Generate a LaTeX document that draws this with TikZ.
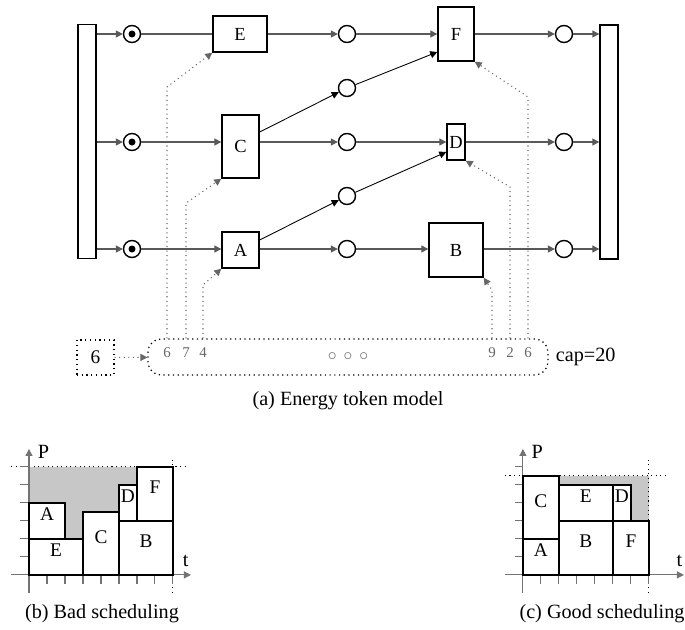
\documentclass[tikz,border=0pt]{standalone}
\usepackage{fontspec}
\setmainfont{Liberation Serif}
\usetikzlibrary{arrows.meta, positioning, fit}

\begin{document}
\begin{tikzpicture}[x=0.02cm, y=-0.02cm,
  bar/.style={draw, line width=0.8pt, minimum width=0.36cm, minimum height=4.68cm, inner sep=0pt},
  place/.style={draw, circle, line width=0.8pt, minimum size=0.34cm, inner sep=0pt},
  mplace/.style={place, path picture={\fill (path picture bounding box.center) circle (0.07cm);}},
  trans/.style={draw, line width=0.8pt, inner sep=0pt, font=\fontsize{10.5}{12}\selectfont},
  flow/.style={-{Triangle[length=4pt,width=4pt]}, draw=black!65, line width=0.7pt},
  plain/.style={draw=black!65, line width=0.7pt},
  link/.style={-{Triangle[length=4pt,width=4pt]}, line width=0.5pt},
  tok/.style={-{Triangle[length=4pt,width=4pt]}, dotted, color=black!60, line width=0.6pt},
  dig/.style={font=\fontsize{8.5}{10}\selectfont, text=black!60, inner sep=0pt},
  dbox/.style={draw, dotted, line width=0.7pt, inner sep=0pt},
  capt/.style={font=\fontsize{11.5}{13}\selectfont, inner sep=0pt},
  axis/.style={-{Triangle[length=4pt,width=4pt]}, draw=black!55, line width=0.6pt},
  tick/.style={draw=black!55, line width=0.6pt},
  guide/.style={dotted, line width=0.6pt},
  slack/.style={fill=black!22},
  blk/.style={draw, line width=0.9pt, fill=white, inner sep=0pt, font=\fontsize{11}{12}\selectfont}
]
  \useasboundingbox (0,0) rectangle (685,629);

  % petri net
  \node[bar] (lbar) at (87,141.5) {};
  \node[bar] (rbar) at (609,142) {};
  \node[mplace] (p1) at (132,34) {};
  \node[mplace] (p2) at (132,142) {};
  \node[mplace] (p3) at (132,249) {};
  \node[trans, minimum width=1.08cm, minimum height=0.72cm] (E) at (240,34) {E};
  \node[trans, minimum width=0.74cm, minimum height=1.26cm] (C) at (240.5,146.5) {C};
  \node[trans, minimum width=0.74cm, minimum height=0.72cm] (A) at (240.5,250) {A};
  \node[place] (q1) at (347,34) {};
  \node[place] (q2) at (347,88) {};
  \node[place] (q3) at (347,142) {};
  \node[place] (q4) at (347,196) {};
  \node[place] (q5) at (347,249) {};
  \node[trans, minimum width=0.72cm, minimum height=1.08cm] (F) at (456,34) {F};
  \node[trans, minimum width=0.36cm, minimum height=0.72cm] (D) at (456,142) {D};
  \node[trans, minimum width=1.08cm, minimum height=1.08cm] (B) at (456,250) {B};
  \node[place] (r1) at (564,34) {};
  \node[place] (r2) at (564,142) {};
  \node[place] (r3) at (564,249) {};

  \foreach \p in {p1,p2,p3}
    \draw[flow] (lbar.east |- \p) -- (\p);
  \draw[plain] (p1) -- (E);
  \draw[flow] (p2) -- (p2 -| C.west);
  \draw[flow] (p3) -- (p3 -| A.west);
  \draw[flow] (E) -- (q1);
  \draw[flow] (C.east |- q3) -- (q3);
  \draw[flow] (A.east |- q5) -- (q5);
  \draw[flow] (q1) -- (F);
  \draw[flow] (q3) -- (D);
  \draw[flow] (q5) -- (q5 -| B.west);
  \draw[flow] (F) -- (r1);
  \draw[flow] (D) -- (r2);
  \draw[flow] (B.east |- r3) -- (r3);
  \foreach \r in {r1,r2,r3}
    \draw[flow] (\r) -- (rbar.west |- \r);
  \draw[link] ([yshift=0.29cm]C.east) -- (q2);
  \draw[link] (q2) -- ([yshift=-0.36cm]F.west);
  \draw[link] ([yshift=0.2cm]A.east) -- (q4);
  \draw[link] (q4) -- ([yshift=-0.2cm]D.west);

  % energy tokens
  \node[dbox, rounded corners=0.26cm, minimum width=8cm, minimum height=0.72cm,
        text=black!60] (buf) at (348,357) {$\circ$\hspace{4pt}$\circ$\hspace{4pt}$\circ$};
  \node[dig] (t1) at (167,353) {6};
  \node[dig] (t2) at (186,353) {7};
  \node[dig] (t3) at (203,353) {4};
  \node[dig] (t4) at (492,353) {9};
  \node[dig] (t5) at (510,353) {2};
  \node[dig] (t6) at (528,353) {6};
  \draw[tok] (t1 |- buf.north) -- (t1 |- 0,87) -- (E.south west);
  \draw[tok] (t2 |- buf.north) -- (t2 |- 0,203) -- (C.south west);
  \draw[tok] (t3 |- buf.north) -- (t3 |- 0,285) -- (A.south west);
  \draw[tok] (t4 |- buf.north) -- (t4 |- 0,290) -- (B.south east);
  \draw[tok] (t5 |- buf.north) -- (t5 |- 0,187) -- (D.south east);
  \draw[tok] (t6 |- buf.north) -- (t6 |- 0,97) -- (F.south east);

  \node[dbox, minimum width=0.74cm, minimum height=0.7cm, font=\fontsize{11}{12}\selectfont] (six) at (95.5,357.5) {6};
  \draw[tok] (six) -- (buf);
  \node[right=0.14cm of buf, capt] (cap) {cap=20};
  \node[capt] (capa) at (348,401) {(a) Energy token model};

  % bad scheduling
  \begin{scope}[shift={(0.58cm,-11.5cm)}, x=0.36cm, y=0.36cm]
    \fill[slack] (0,4) -- (2,4) -- (2,2) -- (3,2) -- (3,3.5) -- (5,3.5) -- (5,5) -- (6,5) -- (6,6) -- (0,6) -- cycle;
    \draw[guide] (-1,6) -- (8.8,6);
    \draw[guide] (8,-1) -- (8,6.4);
    \foreach \i in {1,...,8}
      \draw[tick] (\i,0) -- (\i,-0.5);
    \foreach \j in {1,...,6}
      \draw[tick] (-0.5,\j) -- (0,\j);
    \draw[axis] (-1,0) -- (9,0);
    \draw[axis] (0,-1) -- (0,7);
    \node[blk, fit={(0,0) (3,2)}] (bE) {E};
    \node[blk, fit={(0,2) (2,4)}] (bA) {A};
    \node[blk, fit={(3,0) (5,3.5)}] (bC) {C};
    \node[blk, fit={(5,0) (8,3)}] (bB) {B};
    \node[blk, fit={(5,3) (6,5)}] (bD) {D};
    \node[blk, fit={(6,3) (8,6)}] (bF) {F};
    \node[capt] (pb) at (0.8,6.85) {P};
    \node[capt] (tb) at (8.7,0.75) {t};
  \end{scope}
  \node[capt] (capb) at (102,614) {(b) Bad scheduling};

  % good scheduling
  \begin{scope}[shift={(10.46cm,-11.5cm)}, x=0.36cm, y=0.36cm]
    \fill[slack] (2,5) -- (2,5.5) -- (7,5.5) -- (7,3) -- (6,3) -- (6,5) -- cycle;
    \draw[guide] (-1,5.5) -- (8,5.5);
    \draw[guide] (7,-1) -- (7,6.4);
    \foreach \i in {1,...,7}
      \draw[tick] (\i,0) -- (\i,-0.5);
    \foreach \j in {1,...,6}
      \draw[tick] (-0.45,\j) -- (0,\j);
    \draw[axis] (-1,0) -- (8.95,0);
    \draw[axis] (0,-1) -- (0,7);
    \node[blk, fit={(0,0) (2,2)}] (gA) {A};
    \node[blk, fit={(0,2) (2,5.5)}] (gC) {C};
    \node[blk, fit={(2,0) (5,3)}] (gB) {B};
    \node[blk, fit={(2,3) (5,5)}] (gE) {E};
    \node[blk, fit={(5,3) (6,5)}] (gD) {D};
    \node[blk, fit={(5,0) (7,3)}] (gF) {F};
    \node[capt] (pg) at (0.8,6.85) {P};
    \node[capt] (tg) at (8.7,0.75) {t};
  \end{scope}
  \node[capt] (capc) at (602,614) {(c) Good scheduling};
\end{tikzpicture}
\end{document}
